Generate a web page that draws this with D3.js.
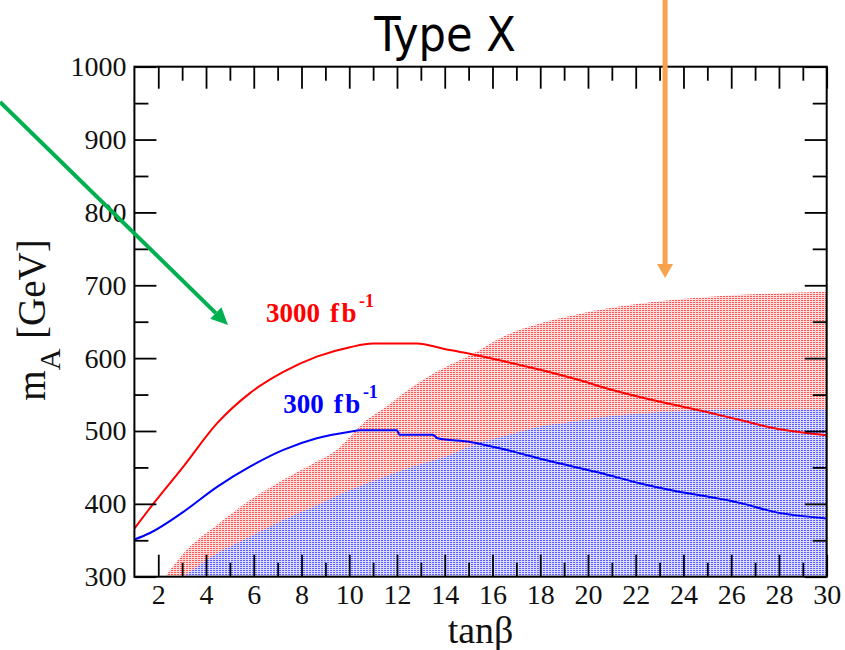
<!DOCTYPE html>
<html>
<head>
<meta charset="utf-8">
<script src="https://cdn.jsdelivr.net/npm/d3@7"></script>
<style>
  html, body { margin: 0; padding: 0; background: #fff; }
  svg { display: block; }
</style>
</head>
<body>
<svg id="chart" width="845" height="650"></svg>
<script>
// Discovery reach in the (tanβ, m_A) plane, Type X 2HDM

// 3000 fb^-1 reach curve
const tanbRed = [1.0, 1.65, 3.05, 4.45, 5.84, 7.24, 8.64, 10.03, 11.0, 12.83, 13.94, 14.9, 16.3, 18.0, 19.4, 21.06, 23.03, 24.98, 26.37, 27.77, 30.0];
const mRed    = [366, 394, 451, 510, 552, 581, 602, 615, 620, 620, 613, 607, 597, 584, 572, 556, 540, 526, 515, 504, 494];

// 300 fb^-1 reach curve
const tanbBlue = [1.0, 1.65, 3.05, 4.45, 5.84, 7.24, 8.64, 10.03, 10.45, 12.0, 12.1, 13.5, 13.7, 15.06, 16.6, 18.0, 19.4, 20.8, 22.2, 23.6, 25.0, 26.4, 27.8, 30.0];
const mBlue    = [351, 360, 389, 423, 451, 474, 490, 499, 501, 501, 495, 495, 490, 485, 474, 462, 451, 440, 428, 418, 410, 401, 389, 380];

// shaded regions (upper edge, filled down to the axis)
const tanbRedBand = [2.28, 3.05, 4.45, 5.84, 7.24, 8.64, 9.47, 10.03, 10.73, 11.43, 12.83, 14.22, 15.06, 16.6, 18.0, 19.4, 20.8, 22.2, 23.6, 25.0, 26.4, 27.8, 30.0];
const mRedBand    = [300, 332, 371, 405, 433, 458, 474, 492, 515, 531, 565, 591, 604, 632, 648, 659, 668, 675, 680, 684, 687, 689, 691];

const tanbBlueBand = [3.05, 4.45, 5.84, 7.24, 8.64, 10.03, 11.43, 12.83, 14.22, 15.2, 16.6, 18.0, 19.4, 20.8, 22.2, 23.6, 25.0, 30.0];
const mBlueBand    = [300, 332, 355, 378, 398, 419, 437, 453, 467, 481, 494, 506, 513, 520, 524, 527, 529, 530];

// ticks
const xMajorTicks = [2, 4, 6, 8, 10, 12, 14, 16, 18, 20, 22, 24, 26, 28, 30];
const xMinorTicks = [3, 5, 7, 9, 11, 13, 15, 17, 19, 21, 23, 25, 27, 29];
const yMajorTicks = [300, 400, 500, 600, 700, 800, 900, 1000];
const yMinorTicks = [350, 450, 550, 650, 750, 850, 950];

// text
const titleText = "Type X";
const label3000 = ["3000", "fb", "-1"];
const label300 = ["300", "fb", "-1"];

const svg = d3.select("#chart");
const L = 134.4, R = 826.7, T = 66.7, B = 576.7;

const x = d3.scaleLinear().domain([1, 30]).range([L, R]);
const y = d3.scaleLinear().domain([300, 1000]).range([B, T]);

const serif = "'Liberation Serif', 'Times New Roman', serif";

// patterns for the stippled fills
const defs = svg.append("defs");
function stipple(id, bg, dot) {
  const p = defs.append("pattern").attr("id", id)
    .attr("patternUnits", "userSpaceOnUse").attr("width", 3).attr("height", 2);
  p.append("rect").attr("width", 3).attr("height", 2).attr("fill", bg);
  p.append("rect").attr("width", 2).attr("height", 1).attr("fill", dot);
}
stipple("redDots", "#ffdede", "#ff5656");
stipple("blueDots", "#dcdcff", "#5a5aff");

defs.append("clipPath").attr("id", "plotClip")
  .append("rect").attr("x", L).attr("y", T).attr("width", R - L).attr("height", B - T);

const plot = svg.append("g").attr("clip-path", "url(#plotClip)");

const area = d3.area().curve(d3.curveMonotoneX)
  .x(d => x(d[0])).y0(y(300)).y1(d => y(d[1]));
plot.append("path")
  .datum(d3.zip(tanbRedBand, mRedBand))
  .attr("d", area).attr("fill", "url(#redDots)");
plot.append("path")
  .datum(d3.zip(tanbBlueBand, mBlueBand))
  .attr("d", area).attr("fill", "url(#blueDots)");

const line = d3.line().curve(d3.curveMonotoneX).x(d => x(d[0])).y(d => y(d[1]));
plot.append("path")
  .datum(d3.zip(tanbRed, mRed))
  .attr("d", line).attr("fill", "none").attr("stroke", "#ff0000").attr("stroke-width", 2);
plot.append("path")
  .datum(d3.zip(tanbBlue, mBlue))
  .attr("d", line).attr("fill", "none").attr("stroke", "#0000ff").attr("stroke-width", 2);

// axes: ticks point inwards on all four sides
function styleAxis(g) {
  g.select(".domain").remove();
  g.selectAll(".tick line").attr("stroke", "#000").attr("stroke-width", 1.8);
  g.selectAll("text").attr("font-family", serif).attr("font-size", 28).attr("fill", "#111");
}
const MAJ = 22, MIN = 14;

svg.append("g").attr("transform", `translate(0,${B})`)
  .call(d3.axisBottom(x).tickValues(xMajorTicks).tickSize(-MAJ).tickPadding(7).tickFormat(d3.format("d")))
  .call(styleAxis);
svg.append("g").attr("transform", `translate(0,${B})`)
  .call(d3.axisBottom(x).tickValues(xMinorTicks).tickSize(-MIN).tickFormat(""))
  .call(styleAxis);
svg.append("g").attr("transform", `translate(0,${T})`)
  .call(d3.axisTop(x).tickValues(xMajorTicks).tickSize(-MAJ).tickFormat(""))
  .call(styleAxis);
svg.append("g").attr("transform", `translate(0,${T})`)
  .call(d3.axisTop(x).tickValues(xMinorTicks).tickSize(-MIN).tickFormat(""))
  .call(styleAxis);

svg.append("g").attr("transform", `translate(${L},0)`)
  .call(d3.axisLeft(y).tickValues(yMajorTicks).tickSize(-MAJ).tickPadding(8).tickFormat(d3.format("d")))
  .call(styleAxis);
svg.append("g").attr("transform", `translate(${L},0)`)
  .call(d3.axisLeft(y).tickValues(yMinorTicks).tickSize(-MIN).tickFormat(""))
  .call(styleAxis);
svg.append("g").attr("transform", `translate(${R},0)`)
  .call(d3.axisRight(y).tickValues(yMajorTicks).tickSize(-MAJ).tickFormat(""))
  .call(styleAxis);
svg.append("g").attr("transform", `translate(${R},0)`)
  .call(d3.axisRight(y).tickValues(yMinorTicks).tickSize(-MIN).tickFormat(""))
  .call(styleAxis);

// frame
svg.append("rect").attr("x", L).attr("y", T).attr("width", R - L).attr("height", B - T)
  .attr("fill", "none").attr("stroke", "#000").attr("stroke-width", 2);

// axis titles
svg.append("text")
  .attr("x", (L + R) / 2).attr("y", 643)
  .attr("text-anchor", "middle")
  .attr("font-family", serif).attr("font-size", 38).attr("fill", "#111")
  .text("tanβ");

const yl = svg.append("text")
  .attr("transform", "translate(45,320) rotate(-90)")
  .attr("text-anchor", "middle")
  .attr("font-family", serif).attr("font-size", 39).attr("fill", "#111");
yl.append("tspan").text("m");
yl.append("tspan").attr("font-size", 30).attr("dy", 15).text("A");
yl.append("tspan").attr("dy", -15).text(" [GeV]");

// title
svg.append("text")
  .attr("x", 445).attr("y", 51)
  .attr("text-anchor", "middle")
  .attr("font-family", "'DejaVu Sans Condensed', 'DejaVu Sans', sans-serif")
  .attr("font-size", 48).attr("fill", "#000")
  .text(titleText);

// luminosity labels
function lumiLabel(t, m, parts, color) {
  const g = svg.append("text")
    .attr("x", x(t)).attr("y", y(m))
    .attr("font-family", serif).attr("font-weight", "bold")
    .attr("font-size", 27).attr("fill", color);
  g.append("tspan").text(parts[0]);
  g.append("tspan").attr("dx", 10).attr("letter-spacing", 2.5).text(parts[1]);
  g.append("tspan").attr("font-size", 18).attr("dy", -15).attr("dx", 0).text(parts[2]);
}
lumiLabel(6.51, 650, label3000, "#ff0000");
lumiLabel(7.24, 524.7, label300, "#0000ff");

// annotation arrows
function arrow(t0, m0, t1, m1, color, width, headLen, headHalf) {
  const x0 = x(t0), y0 = y(m0), x1 = x(t1), y1 = y(m1);
  const a = Math.atan2(y1 - y0, x1 - x0);
  const bx = x1 - headLen * Math.cos(a), by = y1 - headLen * Math.sin(a);
  svg.append("line")
    .attr("x1", x0).attr("y1", y0).attr("x2", bx).attr("y2", by)
    .attr("stroke", color).attr("stroke-width", width);
  const px = -Math.sin(a) * headHalf, py = Math.cos(a) * headHalf;
  svg.append("path")
    .attr("d", `M${x1},${y1}L${bx + px},${by + py}L${bx - px},${by - py}Z`)
    .attr("fill", color);
}
arrow(-4.63, 951.5, 4.92, 645.5, "#00b050", 4, 17, 8);
arrow(23.23, 1091.5, 23.23, 710, "#f8a24e", 5, 14, 8);
</script>
</body>
</html>
